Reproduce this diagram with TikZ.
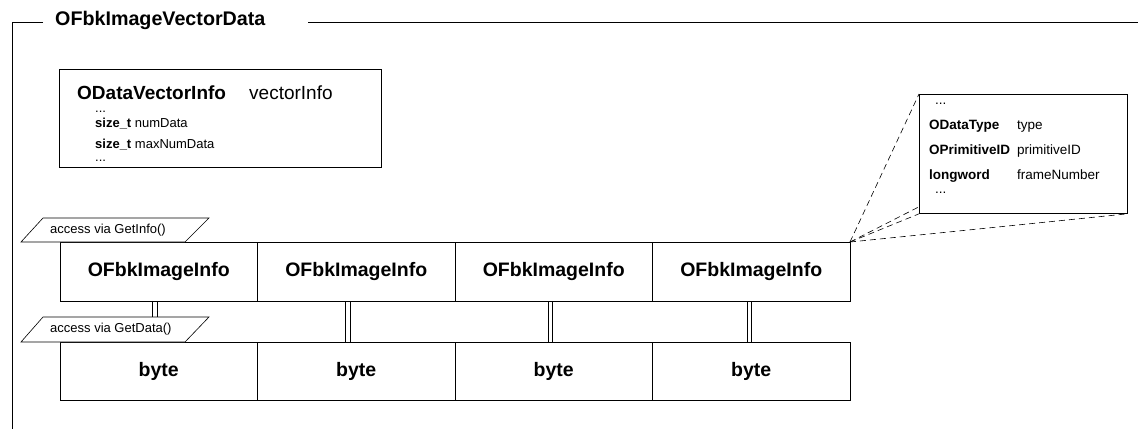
\documentclass[tikz,border=0pt]{standalone}
\usepackage{fontspec}
\setmainfont{Liberation Sans}
\usetikzlibrary{positioning}

\tikzset{
  cellbox/.style={draw, line width=0.8pt, minimum width=197.5pt, inner sep=0pt, outer sep=0pt,
    font=\fontsize{19.5}{22}\selectfont\bfseries},
  infocell/.style={cellbox, minimum height=59pt},
  bytecell/.style={cellbox, minimum height=58pt},
  small/.style={anchor=base west, inner sep=0pt, font=\fontsize{13}{15}\selectfont},
  detailtext/.style={anchor=base west, inner sep=0pt, font=\fontsize{13.5}{15}\selectfont},
  link/.style={line width=0.7pt},
  ray/.style={dash pattern=on 6pt off 4pt, line width=0.6pt}
}

\begin{document}
\begin{tikzpicture}[x=1pt, y=-1pt]
    \useasboundingbox (0,0) rectangle (1138,429);

    % Draw the outer frame with its title
    \node[anchor=base west, inner sep=0pt, font=\fontsize{19.7}{22}\selectfont\bfseries] (title) at (55,25) {OFbkImageVectorData};
    \draw[line width=0.6pt] (43,22) -- (12,22) -- (12,429);
    \draw[line width=0.6pt] (308,22) -- (1138,22);

    % Add the vector info box
    \node[draw, line width=0.8pt, anchor=north west, minimum width=322pt, minimum height=98pt, inner sep=0pt] (vecbox) at (59,69) {};
    \node[anchor=base west, inner sep=0pt, font=\fontsize{19}{22}\selectfont\bfseries] (vectype) at (77,99) {ODataVectorInfo};
    \node[anchor=base west, inner sep=0pt, font=\fontsize{19}{22}\selectfont] (vecname) at (249,99) {vectorInfo};
    \node[small] (dotsa) at (95,112) {...};
    \node[small] (numdata) at (95,127) {\textbf{size\_t} numData};
    \node[small] (maxdata) at (95,148) {\textbf{size\_t} maxNumData};
    \node[small] (dotsb) at (95,161) {...};

    % Add the row of image infos
    \node[infocell, anchor=north west] (info1) at (60,242) {OFbkImageInfo};
    \node[infocell, right=0pt of info1] (info2) {OFbkImageInfo};
    \node[infocell, right=0pt of info2] (info3) {OFbkImageInfo};
    \node[infocell, right=0pt of info3] (info4) {OFbkImageInfo};

    % Add the row of bytes
    \node[bytecell, anchor=north west] (byte1) at (60,342) {byte};
    \node[bytecell, right=0pt of byte1] (byte2) {byte};
    \node[bytecell, right=0pt of byte2] (byte3) {byte};
    \node[bytecell, right=0pt of byte3] (byte4) {byte};

    % Link each info to its data (double lines)
    \draw[link] ([xshift=-6pt]info1.south) -- ([xshift=-6pt]byte1.north);
    \draw[link] ([xshift=-1.5pt]info1.south) -- ([xshift=-1.5pt]byte1.north);
    \draw[link] ([xshift=-10.5pt]info2.south) -- ([xshift=-10.5pt]byte2.north);
    \draw[link] ([xshift=-6pt]info2.south) -- ([xshift=-6pt]byte2.north);
    \draw[link] ([xshift=-5.5pt]info3.south) -- ([xshift=-5.5pt]byte3.north);
    \draw[link] ([xshift=-1pt]info3.south) -- ([xshift=-1pt]byte3.north);
    \draw[link] ([xshift=-4pt]info4.south) -- ([xshift=-4pt]byte4.north);
    \draw[link] ([xshift=0.5pt]info4.south) -- ([xshift=0.5pt]byte4.north);

    % Add the access labels
    \draw[line width=0.6pt, fill=white] (21,242) -- (43,218) -- (209,218) -- (185,242) -- cycle;
    \node[small, anchor=west] (getinfo) at (50,230) {access via GetInfo()};
    \draw[line width=0.6pt, fill=white] (21,342) -- (43,317) -- (209,317) -- (185,342) -- cycle;
    \node[small, anchor=west] (getdata) at (50,329.5) {access via GetData()};

    % Add the detail box of one image info
    \node[draw, line width=0.8pt, anchor=north west, minimum width=208pt, minimum height=119pt, inner sep=0pt] (detail) at (919,94) {};
    \node[detailtext] (dotsc) at (935,104) {...};
    \node[detailtext, font=\fontsize{13.5}{15}\selectfont\bfseries] (typekey) at (929,129) {ODataType};
    \node[detailtext] (typeval) at (1017,129) {type};
    \node[detailtext, font=\fontsize{13.5}{15}\selectfont\bfseries] (primkey) at (929,154) {OPrimitiveID};
    \node[detailtext] (primval) at (1017,154) {primitiveID};
    \node[detailtext, font=\fontsize{13.5}{15}\selectfont\bfseries] (framekey) at (929,179) {longword};
    \node[detailtext] (frameval) at (1017,179) {frameNumber};
    \node[detailtext] (dotsd) at (935,193) {...};

    % Dashed rays to the detail box
    \draw[ray] (info4.north east) -- (detail.north west);
    \draw[ray] (info4.north east) -- ([yshift=7pt]detail.south west);
    \draw[ray] (info4.north east) -- (detail.south west);
    \draw[ray] (info4.north east) -- (detail.south east);
\end{tikzpicture}
\end{document}
